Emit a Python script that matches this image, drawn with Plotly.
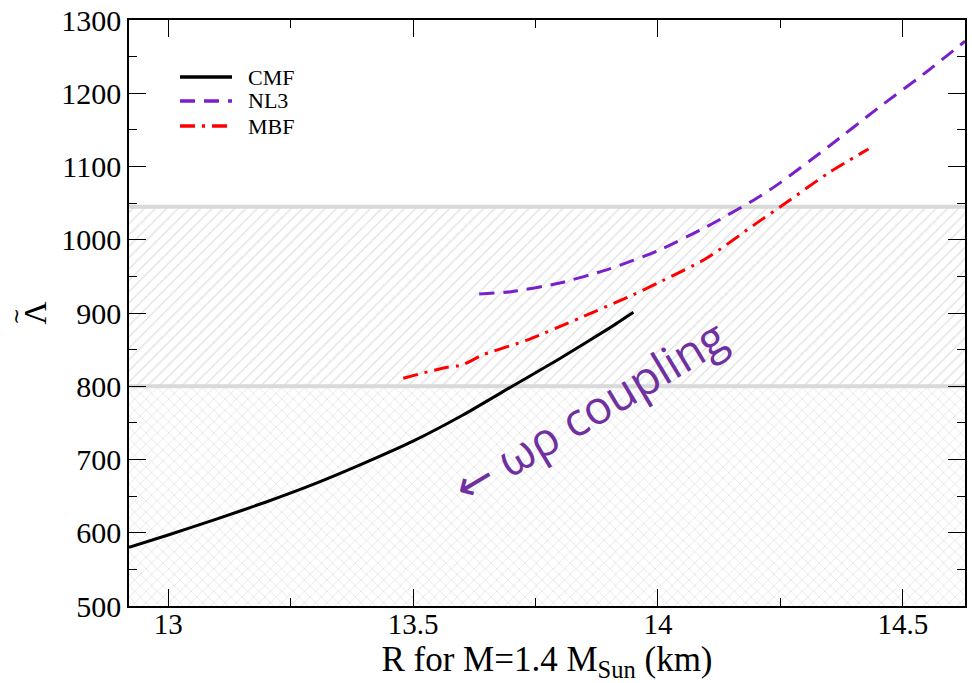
import plotly.graph_objects as go

# ---- data ----
cmf_r = [12.92, 13.0, 13.1, 13.2, 13.3, 13.4, 13.5, 13.6, 13.7, 13.8, 13.9, 13.95]
cmf_l = [580, 597, 619, 642, 667, 695, 725, 760, 799, 838, 879, 901]

nl3_r = [13.635, 13.7, 13.8, 13.9, 14.0, 14.1, 14.2, 14.25, 14.35, 14.45, 14.55, 14.627]
nl3_l = [926, 929, 941, 960, 985, 1018, 1056, 1078, 1128, 1180, 1230, 1271]

mbf_r = [13.48, 13.52, 13.569, 13.6, 13.643, 13.733, 13.84, 13.95, 14.0, 14.1, 14.2, 14.25, 14.35, 14.43]
mbf_l = [811, 818, 826, 829, 843, 863, 893, 925, 941, 975, 1022, 1045, 1092, 1124]

band_cross = [500, 800]     # crosshatched region
band_hatch = [800, 1045]    # single hatched region

x_range = [12.92, 14.627]
y_range = [500, 1300]

x_ticks = [13, 13.5, 14, 14.5]
x_ticklabels = ["13", "13.5", "14", "14.5"]
y_ticks = [500, 600, 700, 800, 900, 1000, 1100, 1200, 1300]

series_names = ["CMF", "NL3", "MBF"]
series_colors = ["black", "#7a1fcc", "#ff0000"]
series_dashes = ["solid", "15px,9px", "15px,7px,3px,7px"]

SERIF = "Liberation Serif, Times New Roman, serif"

fig = go.Figure()

def band(lo, hi, shape):
    xs = [x_range[0], x_range[1], x_range[1], x_range[0], x_range[0]]
    ys = [lo, lo, hi, hi, lo]
    fig.add_trace(go.Scatter(
        x=xs, y=ys, mode="lines", fill="toself",
        line=dict(width=0, color="rgba(0,0,0,0)"),
        fillcolor="white",
        fillpattern=dict(shape=shape, fgcolor="#c6c6c6", bgcolor="white",
                         size=8, solidity=0.18),
        showlegend=False, hoverinfo="skip"))

band(band_cross[0], band_cross[1], "x")
band(band_hatch[0], band_hatch[1], "/")

# gray boundary lines
for yv in [band_hatch[0], band_hatch[1]]:
    fig.add_trace(go.Scatter(x=x_range, y=[yv, yv], mode="lines",
                             line=dict(color="#d9d9d9", width=4),
                             showlegend=False, hoverinfo="skip"))

for xs, ys, nm, col, dsh in zip([cmf_r, nl3_r, mbf_r], [cmf_l, nl3_l, mbf_l],
                                series_names, series_colors, series_dashes):
    fig.add_trace(go.Scatter(x=xs, y=ys, mode="lines", name=nm, showlegend=False,
                             line=dict(color=col, width=3, dash=dsh,
                                       shape="spline", smoothing=0.6)))

# manual legend (line samples + labels) in paper coordinates
leg_y = [0.9027, 0.8618, 0.8191]
for yy, nm, col, dsh in zip(leg_y, series_names, series_colors, series_dashes):
    fig.add_shape(type="line", xref="paper", yref="paper", x0=0.061, x1=0.1232,
                  y0=yy, y1=yy, line=dict(color=col, width=3.5, dash=dsh))
    fig.add_annotation(xref="paper", yref="paper", x=0.14, y=yy, text=nm,
                       showarrow=False, xanchor="left", yanchor="middle",
                       font=dict(family=SERIF, size=22, color="black"))

fig.add_annotation(x=13.86, y=767, xref="x", yref="y",
                   text="<span style='font-family:DejaVu Sans'>←</span> ωρ coupling",
                   showarrow=False, textangle=-31,
                   font=dict(family="Open Sans", size=46, color="#7030a0"))

# tilde accent over the Λ axis title
fig.add_annotation(xref="paper", yref="paper", x=-0.136, y=0.494, text="∼",
                   showarrow=False, textangle=-90, xanchor="center", yanchor="middle",
                   font=dict(family="DejaVu Serif", size=20, color="black"))

axis_common = dict(showline=True, linecolor="black", linewidth=1.5, mirror="ticks",
                   ticks="inside", ticklen=17, tickwidth=1.2, tickcolor="black",
                   showgrid=False, zeroline=False, automargin=False)

fig.update_xaxes(range=x_range, tickvals=x_ticks, ticktext=x_ticklabels,
                 tickfont=dict(family=SERIF, size=29, color="black"),
                 ticklabelstandoff=-9,
                 minor=dict(ticks="inside", ticklen=8, dtick=0.25, tickcolor="black", tickwidth=1.2),
                 title=dict(text="R for M=1.4 M<sub>Sun</sub> (km)", standoff=0,
                            font=dict(family=SERIF, size=35, color="black")),
                 **axis_common)
fig.update_yaxes(range=y_range, tickvals=y_ticks,
                 tickfont=dict(family=SERIF, size=30, color="black"),
                 minor=dict(ticks="inside", ticklen=8, dtick=50, tickcolor="black", tickwidth=1.2),
                 title=dict(text="Λ", standoff=5,
                            font=dict(family=SERIF, size=32, color="black")),
                 **axis_common)

fig.update_layout(
    width=972, height=683,
    margin=dict(l=129, r=7, t=20, b=77),
    paper_bgcolor="white", plot_bgcolor="white",
    font=dict(family=SERIF, color="black"),
    showlegend=False,
)

fig.write_html("out.html")
